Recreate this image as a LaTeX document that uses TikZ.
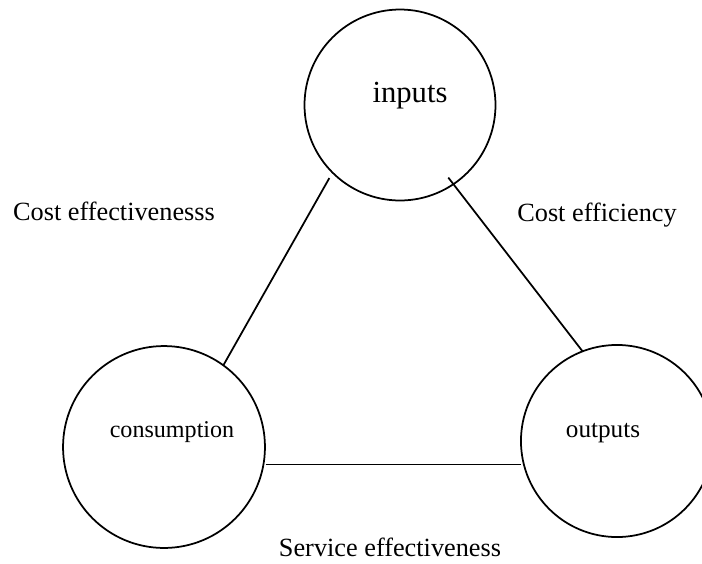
\documentclass[tikz,border=0pt]{standalone}
\usepackage{fontspec}
\setmainfont{Liberation Serif}
\usetikzlibrary{positioning}

\begin{document}
\begin{tikzpicture}[
  x=0.4566pt, y=-0.4566pt,
  ring/.style={draw, circle, line width=0.8pt, inner sep=0pt, outer sep=0pt,
               minimum size=#1},
  link/.style={line width=0.8pt},
  tag/.style={anchor=base, font=\fontsize{#1}{#1}\selectfont},
  tag/.default=12
]
  \useasboundingbox (0,0) rectangle (702,563);

  % The three measures
  \node[ring=87.2pt] (inputs) at (400,105) {};
  \node[ring=92.2pt] (consumption) at (164,447) {};
  \node[ring=87.7pt] (outputs) at (617,441) {};

  \node[tag=14] (inputs-txt) at (410,102) {inputs};
  \node[tag=11] (consumption-txt) at (172,437) {consumption};
  \node[tag=11.5] (outputs-txt) at (603,437) {outputs};

  % Links between them
  \draw[link, shorten <=2.9pt] (inputs.225) -- (consumption.54);
  \draw[link, shorten <=-3.8pt] (inputs.304) -- (outputs.111);
  \draw[link, shorten <=1pt] (consumption.-10) -- (consumption.-10 -| outputs.west);

  % Ratio labels
  \node[tag] (effectiveness) at (114,220) {Cost effectivenesss};
  \node[tag] (efficiency) at (597,221) {Cost efficiency};
  \node[tag] (service) at (390,556) {Service effectiveness};
\end{tikzpicture}
\end{document}
